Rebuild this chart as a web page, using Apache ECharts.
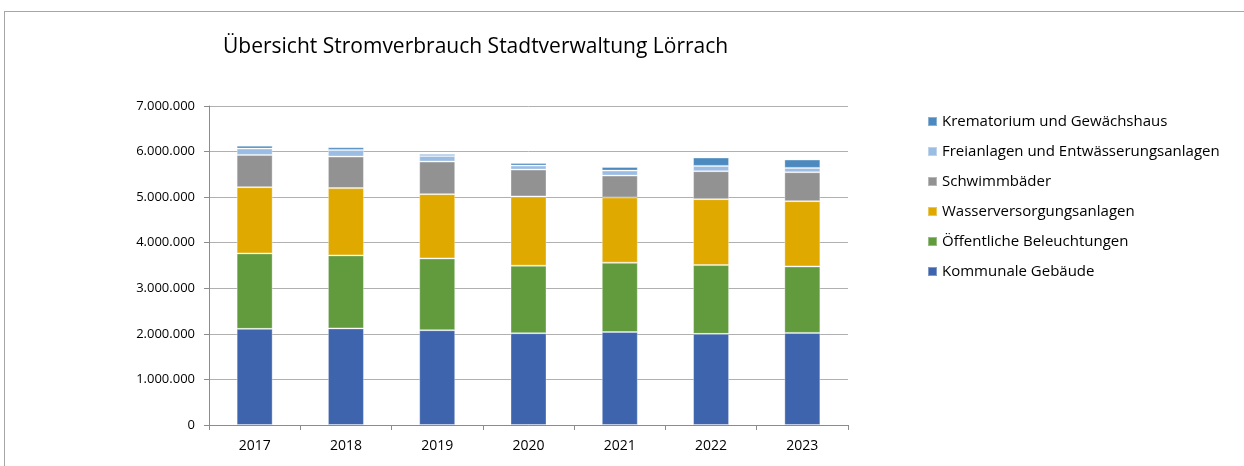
<!DOCTYPE html>
<html lang="de">
    <head>
        <meta charset="UTF-8"/>
        <script src="https://cdn.jsdelivr.net/npm/echarts@6/dist/echarts.min.js"></script>
        <title>Stromverbrauch Lörrach</title>
        <style>
            html, body { margin: 0; padding: 0; background: #fff; }
        </style>
    </head>
    <body>
        <div id="main" style="width: 1244px;height:466px;"></div>
        <script type="text/javascript">

            // Daten (kWh)
            var jahre = ['2017', '2018', '2019', '2020', '2021', '2022', '2023'];
            var kommunaleGebaeude = [2110000, 2120000, 2080000, 2015000, 2040000, 2000000, 2020000];
            var beleuchtungen = [1656000, 1602000, 1576000, 1480000, 1521000, 1510000, 1460000];
            var wasserversorgung = [1453000, 1476000, 1410000, 1520000, 1432000, 1446000, 1432000];
            var schwimmbaeder = [708000, 692000, 714000, 590000, 480000, 614000, 635000];
            var freianlagen = [139000, 147000, 125000, 88000, 110000, 116000, 95000];
            var krematorium = [64000, 58000, 44000, 58000, 80000, 183000, 183000];

            var fontFam = '"Open Sans", "Noto Sans", sans-serif';

            function tausender(v) {
                return String(v).replace(/\B(?=(\d{3})+(?!\d))/g, '.');
            }

            function serie(name, data, color) {
                return {
                    name: name,
                    type: 'bar',
                    stack: 'gesamt',
                    barWidth: 36,
                    data: data,
                    itemStyle: {
                        color: color,
                        borderColor: 'rgba(255,255,255,0.35)',
                        borderWidth: 1
                    }
                };
            }

            var myChart = echarts.init(document.getElementById('main'));

            option = {
                backgroundColor: '#ffffff',
                animation: false,
                title: {
                    text: 'Übersicht Stromverbrauch Stadtverwaltung Lörrach',
                    left: 218,
                    top: 32,
                    textStyle: {
                        fontFamily: fontFam,
                        fontSize: 21,
                        fontWeight: 'normal',
                        color: '#000'
                    }
                },
                legend: {
                    orient: 'vertical',
                    left: 922,
                    top: 108,
                    itemWidth: 9,
                    itemHeight: 9,
                    itemGap: 13,
                    icon: 'rect',
                    textStyle: {
                        fontFamily: fontFam,
                        fontSize: 15,
                        lineHeight: 17,
                        color: '#000'
                    },
                    data: [
                        'Krematorium und Gewächshaus',
                        'Freianlagen und Entwässerungsanlagen',
                        'Schwimmbäder',
                        'Wasserversorgungsanlagen',
                        'Öffentliche Beleuchtungen',
                        'Kommunale Gebäude'
                    ]
                },
                grid: {
                    left: 209,
                    right: 396,
                    top: 106,
                    bottom: 41
                },
                xAxis: {
                    type: 'category',
                    data: jahre,
                    axisLine: { lineStyle: { color: '#8c8c8c' } },
                    axisTick: { show: true, length: 5, lineStyle: { color: '#8c8c8c' } },
                    axisLabel: {
                        fontFamily: fontFam,
                        fontSize: 14,
                        color: '#000',
                        margin: 14
                    }
                },
                yAxis: {
                    type: 'value',
                    min: 0,
                    max: 7000000,
                    interval: 1000000,
                    axisLine: { show: true, lineStyle: { color: '#8c8c8c' } },
                    axisTick: { show: true, length: 5, lineStyle: { color: '#8c8c8c' } },
                    splitLine: { lineStyle: { color: '#b0b0b0' } },
                    axisLabel: {
                        fontFamily: fontFam,
                        fontSize: 13,
                        color: '#000',
                        margin: 14,
                        formatter: tausender
                    }
                },
                graphic: [
                    { type: 'line', shape: { x1: 4, y1: 11.5, x2: 1244, y2: 11.5 }, style: { stroke: '#a6a6a6', lineWidth: 1 } },
                    { type: 'line', shape: { x1: 4.5, y1: 11, x2: 4.5, y2: 466 }, style: { stroke: '#a6a6a6', lineWidth: 1 } }
                ],
                series: [
                    serie('Kommunale Gebäude', kommunaleGebaeude, '#3d64ad'),
                    serie('Öffentliche Beleuchtungen', beleuchtungen, '#629a3e'),
                    serie('Wasserversorgungsanlagen', wasserversorgung, '#e0a900'),
                    serie('Schwimmbäder', schwimmbaeder, '#929292'),
                    serie('Freianlagen und Entwässerungsanlagen', freianlagen, '#9bbde4'),
                    serie('Krematorium und Gewächshaus', krematorium, '#4b89bf')
                ]
            };

            myChart.setOption(option);

        </script>
    </body>
</html>
